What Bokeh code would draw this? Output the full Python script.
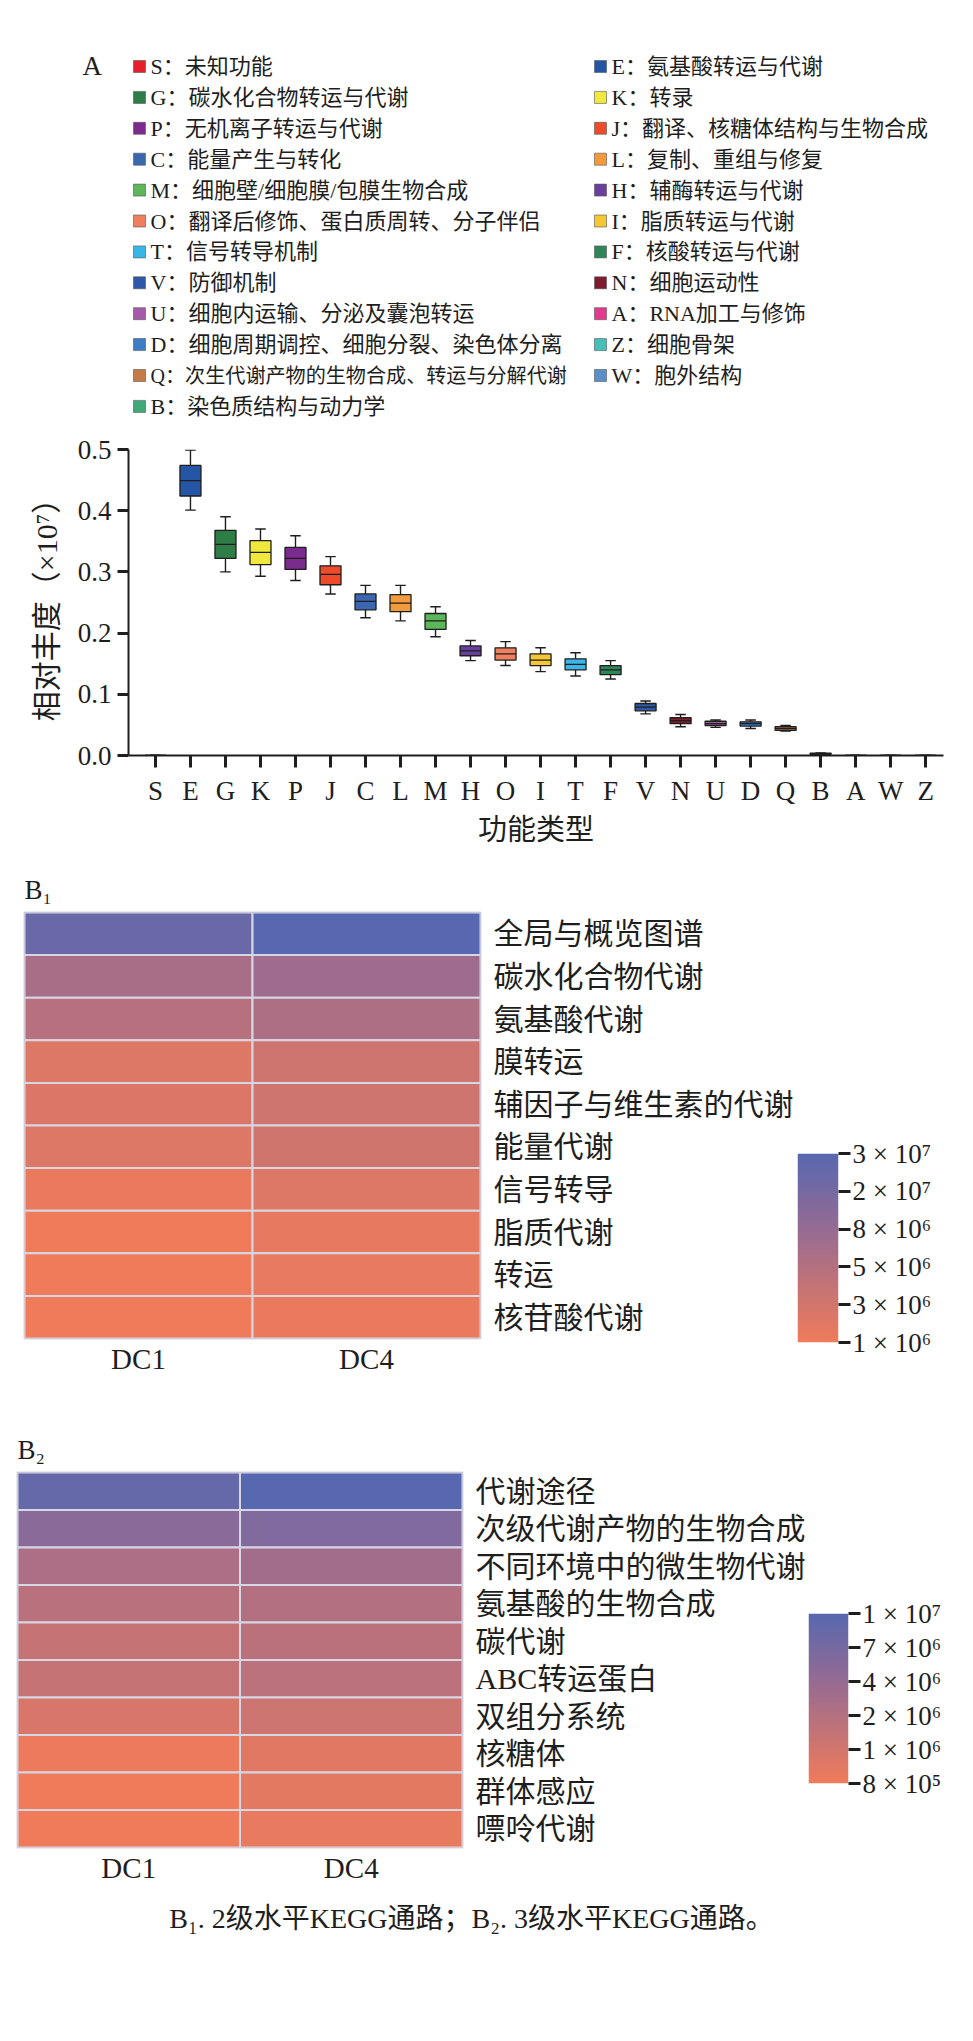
import numpy as np
from bokeh.plotting import figure
from bokeh.models import (ColumnDataSource, Range1d, FactorRange, FixedTicker,
                          LinearColorMapper, NumeralTickFormatter)
from bokeh.layouts import column, row
from bokeh.transform import transform
from bokeh.core.properties import value
from bokeh.embed import file_html
from bokeh.resources import INLINE

FONT = "Liberation Serif, Noto Sans CJK SC"
INK = "#1e1e1e"
GRID = "#d6d6e4"

# ---------------- COG functional categories (panel A) ----------------
cog_codes = ["S", "E", "G", "K", "P", "J", "C", "L", "M", "H", "O", "I",
             "T", "F", "V", "N", "U", "D", "Q", "B", "A", "W", "Z"]
cog_names = ["未知功能", "氨基酸转运与代谢", "碳水化合物转运与代谢", "转录",
             "无机离子转运与代谢", "翻译、核糖体结构与生物合成", "能量产生与转化",
             "复制、重组与修复", "细胞壁/细胞膜/包膜生物合成", "辅酶转运与代谢",
             "翻译后修饰、蛋白质周转、分子伴侣", "脂质转运与代谢", "信号转导机制",
             "核酸转运与代谢", "防御机制", "细胞运动性", "细胞内运输、分泌及囊泡转运",
             "细胞周期调控、细胞分裂、染色体分离", "次生代谢产物的生物合成、转运与分解代谢",
             "染色质结构与动力学", "RNA加工与修饰", "胞外结构", "细胞骨架"]
cog_colors = ["#e4202a", "#2456a5", "#2e7d46", "#f0e83c", "#7b2a8e", "#ee4b2b",
              "#3b66b0", "#f39b3b", "#5db65a", "#6a3e9c", "#f07f5f", "#f5c733",
              "#3ab6e6", "#2e8556", "#2f58a6", "#7d1c2c", "#a45ca8", "#3c7dc4",
              "#c47b47", "#3faa78", "#e33a8d", "#5b8fc9", "#45bfba"]

# box statistics, relative abundance (x10^7)
whisker_low = [0.0, 0.401, 0.300, 0.293, 0.286, 0.264, 0.225, 0.220, 0.194, 0.155, 0.147, 0.137,
               0.130, 0.125, 0.068, 0.047, 0.046, 0.044, 0.040, 0.002, 0.0, 0.0, 0.0]
quart_1 = [0.0, 0.424, 0.322, 0.312, 0.304, 0.279, 0.238, 0.235, 0.206, 0.163, 0.156, 0.147,
           0.140, 0.132, 0.073, 0.052, 0.049, 0.048, 0.041, 0.002, 0.0, 0.0, 0.0]
medians = [0.0, 0.449, 0.345, 0.332, 0.322, 0.296, 0.252, 0.249, 0.220, 0.171, 0.166, 0.156,
           0.149, 0.140, 0.079, 0.057, 0.052, 0.052, 0.044, 0.003, 0.0, 0.0, 0.0]
quart_3 = [0.0, 0.474, 0.368, 0.351, 0.340, 0.310, 0.264, 0.263, 0.232, 0.179, 0.176, 0.166,
           0.158, 0.147, 0.085, 0.062, 0.056, 0.055, 0.047, 0.004, 0.0, 0.0, 0.0]
whisker_high = [0.0, 0.499, 0.390, 0.370, 0.359, 0.325, 0.278, 0.278, 0.243, 0.188, 0.186, 0.176,
                0.168, 0.155, 0.089, 0.067, 0.058, 0.058, 0.049, 0.004, 0.0, 0.0, 0.0]

legend_left = ["S", "G", "P", "C", "M", "O", "T", "V", "U", "D", "Q", "B"]
legend_right = ["E", "K", "J", "L", "H", "I", "F", "N", "A", "Z", "W"]

# ---------------- KEGG pathways (panels B1 / B2) ----------------
samples = ["DC1", "DC4"]
kegg2_rows = ["全局与概览图谱", "碳水化合物代谢", "氨基酸代谢", "膜转运", "辅因子与维生素的代谢",
              "能量代谢", "信号转导", "脂质代谢", "转运", "核苷酸代谢"]
kegg2_dc1 = [2.4e7, 5.9e6, 4.75e6, 2.05e6, 2.1e6, 2.0e6, 1.25e6, 1.0e6, 1.05e6, 1.05e6]
kegg2_dc4 = [3.0e7, 7.0e6, 5.6e6, 3.2e6, 3.2e6, 3.1e6, 2.0e6, 1.45e6, 1.35e6, 1.3e6]
kegg2_ticks = [1e6, 3e6, 5e6, 8e6, 2e7, 3e7]
kegg2_tick_labels = ["1 × 10⁶", "3 × 10⁶", "5 × 10⁶", "8 × 10⁶", "2 × 10⁷", "3 × 10⁷"]

kegg3_rows = ["代谢途径", "次级代谢产物的生物合成", "不同环境中的微生物代谢", "氨基酸的生物合成",
              "碳代谢", "ABC转运蛋白", "双组分系统", "核糖体", "群体感应", "嘌呤代谢"]
kegg3_dc1 = [8.5e6, 5.0e6, 2.4e6, 1.8e6, 1.36e6, 1.35e6, 9.6e5, 8.2e5, 8.1e5, 8.1e5]
kegg3_dc4 = [1.0e7, 5.8e6, 3.0e6, 2.05e6, 1.75e6, 1.7e6, 1.15e6, 9.0e5, 8.8e5, 8.5e5]
kegg3_ticks = [8e5, 1e6, 2e6, 4e6, 7e6, 1e7]
kegg3_tick_labels = ["8 × 10⁵", "1 × 10⁶", "2 × 10⁶", "4 × 10⁶", "7 × 10⁶", "1 × 10⁷"]

caption = "B₁. 2级水平KEGG通路；B₂. 3级水平KEGG通路。"


def blend(stops, n=256):
    pos = np.array([s[0] for s in stops])
    cols = np.array([s[1] for s in stops], float)
    t = np.linspace(0, 1, n)
    rgb = np.stack([np.interp(t, pos, cols[:, k]) for k in range(3)], axis=1)
    return ["#%02x%02x%02x" % tuple(int(round(v)) for v in c) for c in rgb]


PALETTE = blend([(0.0, (240, 123, 90)), (0.6, (150, 107, 147)), (1.0, (88, 104, 176))])


def clean(p):
    p.background_fill_color = "white"
    p.border_fill_color = "white"
    p.outline_line_color = None
    p.xgrid.visible = False
    p.ygrid.visible = False
    # each panel keeps its own frame; no alignment across the layout
    p.frame_align = False


# ---------------- legend block ----------------
def text_em(s):
    return sum(1.0 if ord(c) > 0x2E80 else 0.62 for c in s)


leg = figure(width=973, height=430, x_range=Range1d(0, 973), y_range=Range1d(430, 0),
             x_axis_type=None, y_axis_type=None, min_border=0,
             toolbar_location=None, output_backend="svg")
clean(leg)

lx_sq, lx_tx, ly, lsz = [], [], [], []
l_col, l_txt = [], []
for col_idx, codes in enumerate([legend_left, legend_right]):
    sq_x = 139 if col_idx == 0 else 600
    limit = 415 if col_idx == 0 else 340
    for i, code in enumerate(codes):
        k = cog_codes.index(code)
        label = f"{code}：{cog_names[k]}"
        lx_sq.append(sq_x)
        lx_tx.append(sq_x + 11)
        ly.append(66 + 30.9 * i)
        l_col.append(cog_colors[k])
        l_txt.append(label)
        lsz.append(f"{min(22.0, limit / text_em(label)):.1f}px")

leg_src = ColumnDataSource(dict(xs=lx_sq, xt=lx_tx, y=ly, color=l_col, text=l_txt, size=lsz))
leg.rect(x="xs", y="y", width=12, height=12, fill_color="color", line_color="#555555",
         line_width=0.6, source=leg_src)
leg.text(x="xt", y="y", text="text", text_font=value(FONT), text_font_size="size",
         text_color=INK, text_baseline="middle", text_align="left", source=leg_src)
leg.text(x=[82], y=[65], text=["A"], text_font=value(FONT), text_font_size="27px",
         text_color=INK, text_baseline="middle", text_align="left")

# ---------------- box plot ----------------
n = len(cog_codes)
xs = np.arange(n)
box_src = ColumnDataSource(dict(
    x=xs, lo=whisker_low, q1=quart_1, med=medians, q3=quart_3, hi=whisker_high,
    color=cog_colors,
    cl=xs - 0.15, cr=xs + 0.15, bl=xs - 0.3, br=xs + 0.3,
))

bp = figure(width=973, height=420, x_range=Range1d(-0.77, 22.51), y_range=Range1d(0, 0.5),
            min_border_left=128, min_border_right=30, min_border_top=19, min_border_bottom=95,
            toolbar_location=None, output_backend="svg")
clean(bp)
bp.segment(x0="x", y0="q3", x1="x", y1="hi", line_color=INK, line_width=1.4, source=box_src)
bp.segment(x0="x", y0="lo", x1="x", y1="q1", line_color=INK, line_width=1.4, source=box_src)
bp.segment(x0="cl", y0="hi", x1="cr", y1="hi", line_color=INK, line_width=1.4, source=box_src)
bp.segment(x0="cl", y0="lo", x1="cr", y1="lo", line_color=INK, line_width=1.4, source=box_src)
bp.vbar(x="x", width=0.6, bottom="q1", top="q3", fill_color="color", line_color=INK,
        line_width=1.3, source=box_src)
bp.segment(x0="bl", y0="med", x1="br", y1="med", line_color=INK, line_width=1.3, source=box_src)

bp.xaxis.ticker = FixedTicker(ticks=list(range(n)))
bp.xaxis.major_label_overrides = {i: c for i, c in enumerate(cog_codes)}
bp.yaxis.ticker = FixedTicker(ticks=[0.0, 0.1, 0.2, 0.3, 0.4, 0.5])
bp.yaxis.formatter = NumeralTickFormatter(format="0.0")
for ax in (bp.xaxis[0], bp.yaxis[0]):
    ax.axis_line_color = INK
    ax.axis_line_width = 2
    ax.major_tick_line_color = INK
    ax.major_tick_line_width = 3
    ax.major_tick_in = 0
    ax.minor_tick_line_color = None
    ax.major_label_text_font = FONT
    ax.major_label_text_font_size = "27px"
    ax.major_label_text_color = INK
    ax.axis_label_text_font = FONT
    ax.axis_label_text_font_style = "normal"
    ax.axis_label_text_color = INK
bp.xaxis.major_tick_out = 12
bp.yaxis.major_tick_out = 11
bp.xaxis.major_label_standoff = 8
bp.yaxis.major_label_standoff = 6
bp.xaxis.axis_label = "功能类型"
bp.xaxis.axis_label_text_font_size = "29px"
bp.xaxis.axis_label_standoff = 5
bp.yaxis.axis_label = "相对丰度（×10⁷）"
bp.yaxis.axis_label_text_font_size = "30px"
bp.yaxis.axis_label_standoff = 12


# ---------------- heatmaps with colour bars ----------------
def heatmap(title, rows, dc1, dc4, ticks, tick_labels, fig_w, fig_h, frame, label_px,
            cb_w, cb_frame):
    left, right_pad, top, bottom = frame
    mapper = LinearColorMapper(palette=PALETTE, low=0, high=len(ticks) - 1)
    logt = np.log10(ticks)
    vals = list(dc1) + list(dc4)
    src = ColumnDataSource(dict(
        sample=[samples[0]] * len(rows) + [samples[1]] * len(rows),
        pathway=list(rows) * 2,
        value=vals,
        pos=np.interp(np.log10(vals), logt, np.arange(len(ticks))),
    ))
    p = figure(width=fig_w, height=fig_h, x_range=FactorRange(factors=samples),
               y_range=FactorRange(factors=list(reversed(rows))), y_axis_location="right",
               min_border_left=left, min_border_right=right_pad, min_border_top=top,
               min_border_bottom=bottom, toolbar_location=None, output_backend="svg",
               title=title)
    clean(p)
    p.outline_line_color = GRID
    p.outline_line_width = 2
    p.rect(x="sample", y="pathway", width=1, height=1, source=src,
           fill_color=transform("pos", mapper), line_color=GRID, line_width=2)
    p.title.text_font = FONT
    p.title.text_font_size = "27px"
    p.title.text_font_style = "normal"
    p.title.text_color = INK
    p.title.align = "left"
    p.title.standoff = 16
    for ax in (p.xaxis[0], p.yaxis[0]):
        ax.axis_line_color = None
        ax.major_tick_line_color = None
        ax.major_tick_in = 0
        ax.major_tick_out = 0
        ax.minor_tick_line_color = None
        ax.minor_tick_in = 0
        ax.minor_tick_out = 0
        ax.major_label_text_font = FONT
        ax.major_label_text_color = INK
    p.yaxis.major_label_text_font_size = label_px
    p.yaxis.major_label_standoff = 13
    p.xaxis.major_label_text_font_size = "29px"
    p.xaxis.major_label_standoff = 4

    cb_left, cb_fw, cb_top, cb_bottom = cb_frame
    k = len(ticks) - 1
    cb = figure(width=cb_w, height=fig_h, x_range=Range1d(0, 1), y_range=Range1d(0, k),
                x_axis_location=None, y_axis_location="right",
                min_border_left=cb_left, min_border_right=cb_w - cb_left - cb_fw,
                min_border_top=cb_top, min_border_bottom=cb_bottom,
                toolbar_location=None, output_backend="svg")
    clean(cb)
    grad = np.linspace(0, k, 300).reshape(-1, 1)
    cb.image(image=[grad], x=0, y=0, dw=1, dh=k, color_mapper=mapper)
    cb.yaxis.ticker = FixedTicker(ticks=list(range(len(ticks))))
    cb.yaxis.major_label_overrides = {i: lab for i, lab in enumerate(tick_labels)}
    cb.yaxis.axis_line_color = None
    cb.yaxis.major_tick_line_color = INK
    cb.yaxis.major_tick_line_width = 3
    cb.yaxis.major_tick_in = 0
    cb.yaxis.major_tick_out = 12
    cb.yaxis.minor_tick_line_color = None
    cb.yaxis.major_label_standoff = 2
    cb.yaxis.major_label_text_font = FONT
    cb.yaxis.major_label_text_font_size = "27px"
    cb.yaxis.major_label_text_color = INK
    return row(p, cb)


b1 = heatmap("B₁", kegg2_rows, kegg2_dc1, kegg2_dc4, kegg2_ticks, kegg2_tick_labels,
             796, 550, (24, 796 - 481, 62, 62), "30px", 177, (1, 41, 303, 58))
b2 = heatmap("B₂", kegg3_rows, kegg3_dc1, kegg3_dc4, kegg3_ticks, kegg3_tick_labels,
             808, 490, (17, 808 - 463, 72, 43), "30px", 165, (0, 40, 213, 107))

# ---------------- caption ----------------
cap = figure(width=973, height=110, x_range=Range1d(0, 973), y_range=Range1d(110, 0),
             x_axis_type=None, y_axis_type=None, min_border=0,
             toolbar_location=None, output_backend="svg")
clean(cap)
cap.text(x=[471], y=[28], text=[caption], text_font=value(FONT), text_font_size="28px",
         text_color=INK, text_align="center", text_baseline="middle")

layout = column(leg, bp, b1, b2, cap)
open("out.html", "w").write(file_html(layout, INLINE))
